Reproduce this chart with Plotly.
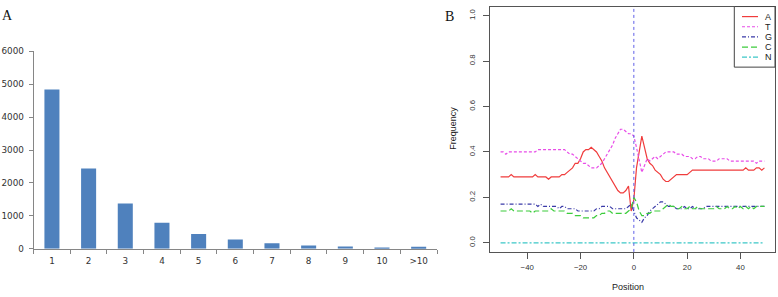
import plotly.graph_objects as go

# ---------------- Panel A data ----------------
bar_categories = ["1", "2", "3", "4", "5", "6", "7", "8", "9", "10", ">10"]
bar_values = [4840, 2440, 1380, 790, 450, 280, 170, 100, 70, 30, 60]
bar_yticks = [0, 1000, 2000, 3000, 4000, 5000, 6000]

# ---------------- Panel B data ----------------
positions = list(range(-50, 50))
freq_A = [0.29, 0.29, 0.29, 0.29, 0.30, 0.29, 0.29, 0.29, 0.29, 0.29,
          0.29, 0.29, 0.29, 0.30, 0.29, 0.29, 0.29, 0.29, 0.28, 0.29,
          0.29, 0.29, 0.29, 0.30, 0.30, 0.31, 0.32, 0.33, 0.35, 0.35,
          0.37, 0.40, 0.41, 0.41, 0.42, 0.41, 0.40, 0.38, 0.36, 0.33,
          0.31, 0.29, 0.27, 0.25, 0.23, 0.22, 0.22, 0.23, 0.25, 0.14,
          0.19, 0.33, 0.40, 0.47, 0.42, 0.37, 0.35, 0.34, 0.32, 0.31,
          0.30, 0.28, 0.27, 0.27, 0.28, 0.29, 0.30, 0.30, 0.30, 0.30,
          0.30, 0.31, 0.32, 0.32, 0.32, 0.32, 0.32, 0.32, 0.32, 0.32,
          0.32, 0.32, 0.32, 0.32, 0.32, 0.32, 0.32, 0.32, 0.32, 0.32,
          0.32, 0.32, 0.33, 0.32, 0.32, 0.32, 0.33, 0.33, 0.32, 0.33]
freq_T = [0.40, 0.40, 0.39, 0.40, 0.40, 0.40, 0.40, 0.40, 0.40, 0.40,
          0.40, 0.40, 0.40, 0.40, 0.41, 0.41, 0.41, 0.41, 0.41, 0.41,
          0.41, 0.41, 0.41, 0.41, 0.41, 0.40, 0.39, 0.39, 0.38, 0.37,
          0.36, 0.35, 0.35, 0.34, 0.33, 0.33, 0.33, 0.34, 0.35, 0.37,
          0.39, 0.41, 0.43, 0.46, 0.48, 0.50, 0.50, 0.49, 0.48, 0.48,
          0.47, 0.42, 0.36, 0.31, 0.34, 0.37, 0.36, 0.37, 0.38, 0.37,
          0.38, 0.39, 0.40, 0.40, 0.40, 0.40, 0.39, 0.39, 0.39, 0.38,
          0.38, 0.38, 0.37, 0.37, 0.38, 0.38, 0.37, 0.37, 0.37, 0.36,
          0.36, 0.36, 0.37, 0.37, 0.37, 0.37, 0.36, 0.36, 0.36, 0.36,
          0.36, 0.36, 0.36, 0.36, 0.36, 0.36, 0.35, 0.36, 0.36, 0.36]
freq_G = [0.17, 0.17, 0.17, 0.17, 0.17, 0.17, 0.17, 0.17, 0.17, 0.17,
          0.17, 0.17, 0.17, 0.17, 0.16, 0.17, 0.16, 0.16, 0.16, 0.16,
          0.16, 0.16, 0.15, 0.16, 0.16, 0.15, 0.15, 0.15, 0.15, 0.14,
          0.14, 0.14, 0.14, 0.14, 0.14, 0.14, 0.15, 0.15, 0.16, 0.16,
          0.16, 0.16, 0.15, 0.15, 0.15, 0.15, 0.15, 0.15, 0.16, 0.17,
          0.14, 0.11, 0.10, 0.09, 0.11, 0.12, 0.14, 0.15, 0.16, 0.17,
          0.18, 0.18, 0.17, 0.16, 0.16, 0.16, 0.15, 0.15, 0.15, 0.16,
          0.15, 0.15, 0.16, 0.15, 0.15, 0.15, 0.15, 0.16, 0.16, 0.16,
          0.16, 0.16, 0.16, 0.16, 0.16, 0.16, 0.16, 0.16, 0.16, 0.16,
          0.16, 0.16, 0.16, 0.16, 0.16, 0.16, 0.16, 0.16, 0.16, 0.16]
freq_C = [0.14, 0.14, 0.14, 0.14, 0.15, 0.14, 0.14, 0.14, 0.14, 0.14,
          0.14, 0.14, 0.13, 0.14, 0.14, 0.14, 0.14, 0.14, 0.14, 0.15,
          0.14, 0.14, 0.14, 0.14, 0.14, 0.13, 0.13, 0.13, 0.12, 0.12,
          0.12, 0.11, 0.11, 0.11, 0.11, 0.11, 0.12, 0.12, 0.13, 0.13,
          0.14, 0.14, 0.13, 0.13, 0.13, 0.13, 0.13, 0.13, 0.14, 0.15,
          0.20, 0.18, 0.14, 0.12, 0.12, 0.13, 0.13, 0.14, 0.14, 0.14,
          0.14, 0.15, 0.16, 0.17, 0.16, 0.16, 0.15, 0.15, 0.16, 0.15,
          0.15, 0.16, 0.15, 0.15, 0.16, 0.15, 0.15, 0.15, 0.15, 0.15,
          0.15, 0.16, 0.15, 0.15, 0.15, 0.16, 0.15, 0.15, 0.16, 0.15,
          0.16, 0.15, 0.16, 0.15, 0.16, 0.15, 0.16, 0.16, 0.16, 0.16]
freq_N = [0.0] * 100
line_names = ["A", "T", "G", "C", "N"]
line_yticks = [0.0, 0.2, 0.4, 0.6, 0.8, 1.0]
line_xticks = [-40, -20, 0, 20, 40]

series = [freq_A, freq_T, freq_G, freq_C, freq_N]
colors = ["#f03c3c", "#e84ce8", "#3a3aa8", "#3ccc3c", "#3cc8c8"]
dashes = ["solid", "3px,2px", "4px,2px,1px,2px", "6px,3px", "5px,2px,2px,2px"]

W, H = 778, 297
def fx(px):
    return px / W
def fy(py):
    return 1 - py / H

fig = go.Figure()

fig.add_trace(go.Bar(x=bar_categories, y=bar_values, marker_color="#4f81bd",
                     marker_line_width=0, xaxis="x", yaxis="y", showlegend=False))

for name, vals, col, dsh in zip(line_names, series, colors, dashes):
    fig.add_trace(go.Scatter(x=positions, y=vals, mode="lines", name=name,
                             line=dict(color=col, width=1.2, dash=dsh),
                             xaxis="x2", yaxis="y2", showlegend=False))

axgray = "#868686"
tickA = dict(family="DejaVu Sans", size=8.8, color="#333")
tickB = dict(family="Liberation Sans", size=7.8, color="#333")
fig.update_layout(
    width=W, height=H, margin=dict(l=0, r=0, t=0, b=0),
    paper_bgcolor="white", plot_bgcolor="white",
    bargap=0.59,
    font=dict(family="Liberation Sans", color="#222"),
    xaxis=dict(domain=[fx(33.6), fx(437)], type="category", showline=True,
               linecolor=axgray, linewidth=1, ticks="outside", tickson="boundaries",
               ticklen=4, tickcolor=axgray, showgrid=False, zeroline=False,
               tickfont=tickA, ticklabelstandoff=4),
    yaxis=dict(domain=[fy(252.3), fy(48)], range=[0, 6000], tickvals=bar_yticks,
               showline=True, linecolor=axgray, linewidth=1, ticks="outside",
               ticklen=4, tickcolor=axgray, showgrid=False, zeroline=False,
               tickfont=tickA, ticklabelstandoff=3),
    xaxis2=dict(domain=[fx(490), fx(775)], range=[-53.96, 52.96], tickvals=line_xticks,
                showline=True, mirror=True, linecolor="#555", linewidth=1,
                ticks="outside", ticklen=6, tickcolor="#555", showgrid=False,
                zeroline=False, tickfont=tickB, anchor="y2", ticklabelstandoff=2),
    yaxis2=dict(domain=[fy(255.5), fy(1.6)], range=[-0.04, 1.04], tickvals=line_yticks,
                tickformat=".1f", tickangle=-90, showline=True, mirror=True,
                linecolor="#555", linewidth=1, ticks="outside", ticklen=6,
                tickcolor="#555", showgrid=False, zeroline=False,
                tickfont=tickB, anchor="x2", ticklabelstandoff=5),
)

# vertical dotted line at position 0
fig.add_shape(type="line", xref="x2", yref="y2 domain", x0=0, x1=0, y0=0, y1=1,
              line=dict(color="#6060e8", width=1, dash="dot"))

def label(text, x, y, size, family="Liberation Sans", angle=0, color="#222"):
    fig.add_annotation(text=text, xref="paper", yref="paper", x=fx(x), y=fy(y),
                       xanchor="center", yanchor="middle", showarrow=False,
                       textangle=angle, font=dict(family=family, size=size, color=color))

label("Position", 628, 292, 9)
label("Frequency", 453, 128, 9, angle=-90)
label("A", 7.5, 11, 14, family="Liberation Serif", color="#111")
label("B", 449.5, 12, 14, family="Liberation Serif", color="#111")

# legend box in the top-right corner of panel B
lx0, lx1, ly0, ly1 = 734.3, 775, 1.6, 64.3
fig.add_shape(type="rect", xref="paper", yref="paper", x0=fx(lx0), x1=fx(lx1),
              y0=fy(ly1), y1=fy(ly0), line=dict(color="#444", width=1), fillcolor="white")
for i, (name, col, dsh) in enumerate(zip(line_names, colors, dashes)):
    yy = 12 + i * 10.5
    fig.add_shape(type="line", xref="paper", yref="paper", x0=fx(742), x1=fx(758),
                  y0=fy(yy), y1=fy(yy), line=dict(color=col, width=1.2, dash=dsh))
    label(name, 768, yy, 9)

page_fix = ("var d=document.getElementById('{plot_id}');"
            "var h=document.documentElement,b=document.body;"
            "h.style.margin='0';h.style.padding='0';h.style.overflow='hidden';"
            "b.style.margin='0';b.style.padding='0';b.style.overflow='hidden';"
            "d.parentElement.style.fontSize='0';d.parentElement.style.lineHeight='0';"
            "d.style.display='block';")
fig.write_html("out.html", config={"responsive": False, "displayModeBar": False},
               post_script=page_fix)
